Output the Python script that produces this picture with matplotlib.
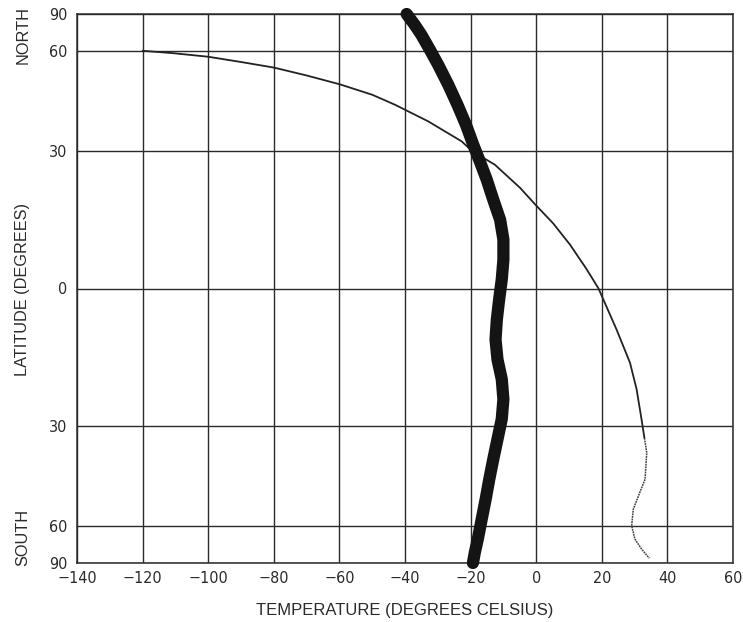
import numpy as np
import matplotlib
matplotlib.use('Agg')
import matplotlib.pyplot as plt

plt.rcParams['font.family'] = ['Liberation Sans', 'DejaVu Sans']

# zonal mean temperature vs latitude, thick curve
thick_temp = [-39.5, -37.0, -35.0, -32.4, -29.9, -26.8, -24.0, -21.4, -19.2, -17.3, -15.1, -13.1,
              -11.0, -10.0, -10.0, -10.5, -11.3, -12.0, -12.4, -11.8, -10.5, -10.0, -10.5, -11.8,
              -13.1, -14.3, -15.4, -16.6, -17.8, -18.7, -19.3]
thick_lat = [90, 73.7, 67.5, 60.4, 54.6, 47.9, 42.0, 36.6, 31.6, 27.8, 23.4, 18.9,
             14.5, 10.3, 6.0, 1.9, -2.3, -6.5, -10.7, -15.0, -19.3, -23.8, -28.4, -33.3,
             -38.5, -44.0, -50.1, -57.1, -65.9, -74, -90]

# thin curve, solid part
thin_temp = [-120, -110.6, -100, -90, -80, -70, -60, -50, -43, -32.9, -22.7, -19.5, -12.6, -4.9,
             -0.4, 5.2, 10.3, 15.4, 19.0, 24.5, 28.6, 30.6, 32.1, 33.0]
thin_lat = [60, 59.0, 57.6, 55.6, 53.6, 50.9, 48.1, 44.9, 42.0, 37.5, 32.4, 30, 26.8, 21.5,
            17.9, 13.7, 9.2, 4.0, 0, -8.6, -15.7, -21.5, -28.4, -33]

# thin curve, faint southern tail
tail_temp = [33.0, 33.7, 33.2, 31.2, 29.6, 29.1, 30.1, 32.1, 34.5]
tail_lat = [-33, -36.7, -44, -49, -53.5, -59.8, -65.9, -71.6, -79.4]

x_ticks = list(range(-140, 61, 20))
lat_ticks = [90, 60, 30, 0, -30, -60, -90]


def forward(lat):
    return np.sin(np.radians(lat))


def inverse(s):
    return np.degrees(np.arcsin(np.clip(s, -1, 1)))


fig = plt.figure(figsize=(7.43, 6.22), dpi=100)
ax = fig.add_axes([77 / 743, 1 - 563 / 622, 656 / 743, 549 / 622])
ax.set_yscale('function', functions=(forward, inverse))
ax.set_xlim(-140, 60)
ax.set_ylim(-90, 90)

ink = '#2a2a2a'
ax.set_xticks(x_ticks)
ax.set_xticklabels([str(t).replace('-', '\u2212') for t in x_ticks])
ax.set_yticks(lat_ticks)
ax.set_yticklabels([str(abs(t)) for t in lat_ticks])
ax.tick_params(length=0, labelsize=11.5, colors=ink)
ax.tick_params(axis='y', pad=7)
ax.tick_params(axis='x', pad=6)
for lbl in ax.get_xticklabels() + ax.get_yticklabels():
    lbl.set_family('DejaVu Sans')
    lbl.set_stretch('condensed')
ax.grid(True, color=ink, linewidth=1.0)
for s in ax.spines.values():
    s.set_color(ink)
    s.set_linewidth(1.1)

ax.plot(thin_temp, thin_lat, color='#222222', linewidth=1.3, solid_capstyle='round',
        solid_joinstyle='round')
ax.plot(tail_temp, tail_lat, color='#444444', linewidth=1.1, linestyle=(0, (1.2, 0.5)))
ax.plot(thick_temp, thick_lat, color='#141414', linewidth=8.8, solid_capstyle='round',
        solid_joinstyle='round', clip_on=False, zorder=5)

ax.set_xlabel('TEMPERATURE (DEGREES CELSIUS)', fontsize=12, color=ink, labelpad=12)
fig.text(23 / 743, 1 - 290 / 622, 'LATITUDE (DEGREES)', rotation=90, ha='center', va='center',
         fontsize=11.7, color=ink)
fig.text(23 / 743, 1 - 35 / 622, 'NORTH', rotation=90, ha='center', va='center',
         fontsize=11.7, color=ink)
fig.text(23 / 743, 1 - 537 / 622, 'SOUTH', rotation=90, ha='center', va='center',
         fontsize=11.7, color=ink)

fig.savefig('out.png', dpi=100)
